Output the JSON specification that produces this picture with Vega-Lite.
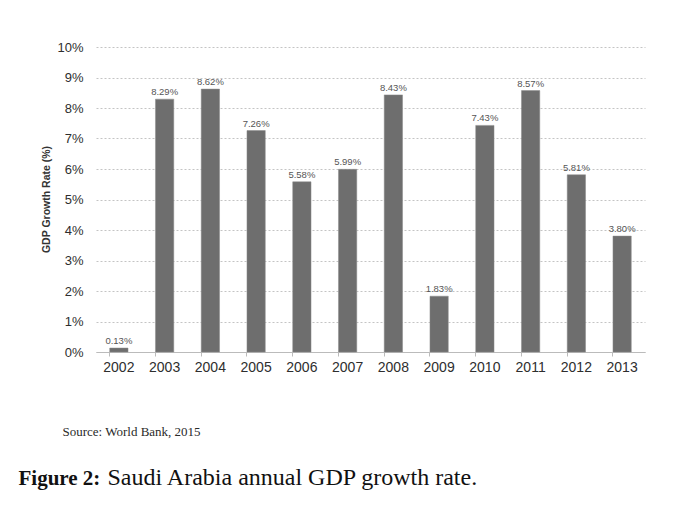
{
  "$schema": "https://vega.github.io/schema/vega-lite/v6.json",
  "autosize": {"type": "none"},
  "padding": {"left": 96, "top": 47, "right": 33, "bottom": 175},
  "width": 549,
  "height": 305,
  "background": "white",
  "config": {
    "view": {"stroke": null},
    "font": "Liberation Sans"
  },
  "data": {
    "values": [
      {"year": "2002", "rate": 0.0013},
      {"year": "2003", "rate": 0.0829},
      {"year": "2004", "rate": 0.0862},
      {"year": "2005", "rate": 0.0726},
      {"year": "2006", "rate": 0.0558},
      {"year": "2007", "rate": 0.0599},
      {"year": "2008", "rate": 0.0843},
      {"year": "2009", "rate": 0.0183},
      {"year": "2010", "rate": 0.0743},
      {"year": "2011", "rate": 0.0857},
      {"year": "2012", "rate": 0.0581},
      {"year": "2013", "rate": 0.038}
    ]
  },
  "layer": [
    {
      "mark": {"type": "bar", "color": "#6e6e6e", "stroke": "#8a8a8a", "strokeWidth": 0.5},
      "encoding": {
        "x": {
          "field": "year",
          "type": "ordinal",
          "scale": {"paddingInner": 0.6, "paddingOuter": 0.3},
          "axis": {
            "labelAngle": 0,
            "labelFont": "Liberation Sans",
            "labelFontSize": 14,
            "labelColor": "#2e2e2e",
            "labelPadding": 4,
            "bandPosition": 0,
            "ticks": true,
            "tickSize": 4,
            "tickColor": "#bbbbbb",
            "domainColor": "#bbbbbb",
            "grid": false,
            "title": "Source: World Bank, 2015",
            "titleFont": "Liberation Serif",
            "titleFontSize": 13,
            "titleFontWeight": "normal",
            "titleColor": "#2a2a2a",
            "titleAlign": "left",
            "titleBaseline": "alphabetic",
            "titleX": -34,
            "titleY": 83
          }
        },
        "y": {
          "field": "rate",
          "type": "quantitative",
          "scale": {"domain": [0, 0.1]},
          "axis": {
            "values": [0, 0.01, 0.02, 0.03, 0.04, 0.05, 0.06, 0.07, 0.08, 0.09, 0.1],
            "format": ".0%",
            "labelFont": "Liberation Sans",
            "labelFontSize": 13,
            "labelColor": "#2e2e2e",
            "labelPadding": 13,
            "ticks": false,
            "domain": false,
            "grid": true,
            "gridColor": "#c4c4c4",
            "gridDash": [2, 2],
            "gridWidth": 1,
            "title": "GDP Growth Rate (%)",
            "titleFont": "Liberation Sans",
            "titleFontSize": 10.5,
            "titleFontWeight": "bold",
            "titleColor": "#333333",
            "titleAngle": -90,
            "titleAlign": "center",
            "titleBaseline": "middle",
            "titleX": -50,
            "titleY": 152
          }
        }
      }
    },
    {
      "mark": {"type": "text", "fontSize": 9.5, "color": "#555555", "baseline": "alphabetic", "dy": -4, "font": "Liberation Sans"},
      "encoding": {
        "x": {
          "field": "year",
          "type": "ordinal",
          "axis": {
            "orient": "top",
            "labels": false,
            "ticks": false,
            "domain": false,
            "grid": false,
            "title": "Figure 2:",
            "titleFont": "Liberation Serif",
            "titleFontSize": 21,
            "titleFontWeight": "bold",
            "titleColor": "#111111",
            "titleAlign": "left",
            "titleBaseline": "alphabetic",
            "titleX": -78,
            "titleY": 437
          }
        },
        "y": {
          "field": "rate",
          "type": "quantitative",
          "scale": {"domain": [0, 0.1]},
          "axis": {
            "orient": "right",
            "labels": false,
            "ticks": false,
            "domain": false,
            "grid": false,
            "title": "Saudi Arabia annual GDP growth rate.",
            "titleFont": "Liberation Serif",
            "titleFontSize": 24,
            "titleFontWeight": "normal",
            "titleColor": "#111111",
            "titleAngle": 0,
            "titleAlign": "left",
            "titleBaseline": "alphabetic",
            "titleX": -538,
            "titleY": 437
          }
        },
        "text": {"field": "rate", "type": "quantitative", "format": ".2%"}
      }
    }
  ],
  "resolve": {"scale": {"x": "independent", "y": "independent"}}
}
